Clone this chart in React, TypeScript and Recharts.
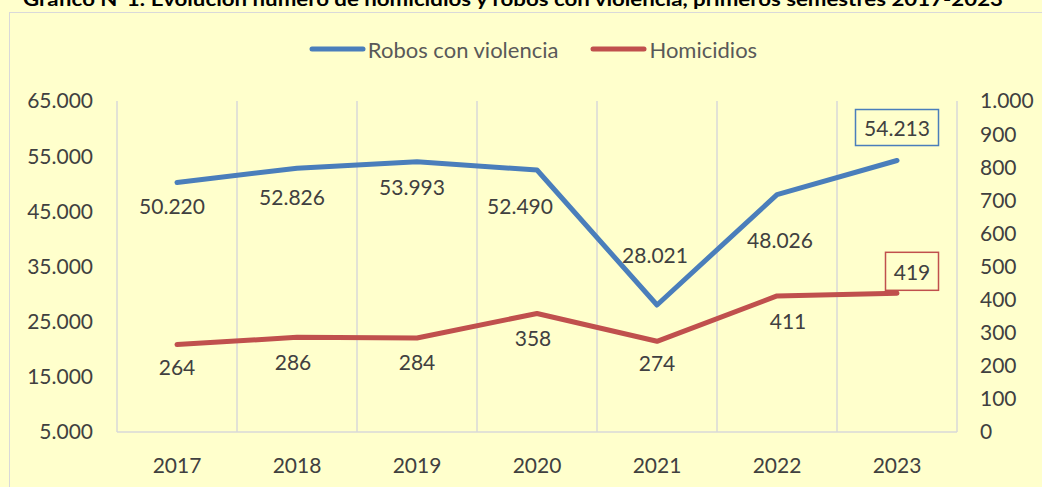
import React from 'react';
import { LineChart, Line, XAxis, YAxis, CartesianGrid, Legend, LabelList } from 'recharts';

const YEARS = ['2017', '2018', '2019', '2020', '2021', '2022', '2023'];
const ROBOS = [50220, 52826, 53993, 52490, 28021, 48026, 54213];
const HOMICIDIOS = [264, 286, 284, 358, 274, 411, 419];
const ROBOS_TICKS = [5000, 15000, 25000, 35000, 45000, 55000, 65000];
const HOMICIDIOS_TICKS = [0, 100, 200, 300, 400, 500, 600, 700, 800, 900, 1000];
const SERIES_ORDER = ['Robos con violencia', 'Homicidios'];

// where each data label sits relative to its point (as in the original, hand placed)
const ROBOS_LABEL_OFFSET = [[-5, 23], [-5, 28], [-5, 25], [-17, 35], [-2, -51], [3, 45], [0, -33]];
const HOMICIDIOS_LABEL_OFFSET = [[0, 22], [-4, 24], [0, 24], [-4, 24], [0, 21], [11, 25], [15, -22]];

const data = YEARS.map((year, i) => ({ year, robos: ROBOS[i], homicidios: HOMICIDIOS[i] }));

const FONT = 'Lato, "Liberation Sans", sans-serif';
const BLUE = '#4A7EBB';
const RED = '#C0504D';
const GRID = '#D9D9D9';
const TEXT = '#404040';

const fmt = (v: number) => String(v).replace(/\B(?=(\d{3})+(?!\d))/g, '.');

const makeLabel = (offsets: number[][], boxColor: string, boxSize: [number, number]) => (props: any) => {
  const { x, y, value, index } = props;
  const [dx, dy] = offsets[index];
  const cx = x + dx;
  const cy = y + dy;
  const last = index === offsets.length - 1;
  return (
    <g>
      {last && (
        <rect
          x={cx - boxSize[0] / 2}
          y={cy - boxSize[1] / 2}
          width={boxSize[0]}
          height={boxSize[1]}
          fill="none"
          stroke={boxColor}
          strokeWidth={1.5}
        />
      )}
      <text x={cx} y={cy} textAnchor="middle" dominantBaseline="central" fontFamily={FONT} fontSize={21} fill={TEXT}>
        {fmt(value)}
      </text>
    </g>
  );
};

const renderLegend = (props: any) => {
  const payload = [...(props.payload || [])].sort(
    (a: any, b: any) => SERIES_ORDER.indexOf(a.value) - SERIES_ORDER.indexOf(b.value)
  );
  return (
    <div
      style={{
        display: 'flex',
        justifyContent: 'center',
        alignItems: 'center',
        height: 30,
        paddingLeft: 56,
        fontFamily: FONT,
        fontSize: 22,
        color: '#595959',
      }}
    >
      {payload.map((entry: any) => (
        <div key={entry.value} style={{ display: 'flex', alignItems: 'center', marginRight: 32 }}>
          <svg width={57} height={10}>
            <line x1={3} y1={5} x2={54} y2={5} stroke={entry.color} strokeWidth={5} strokeLinecap="round" />
          </svg>
          <span style={{ marginLeft: 2 }}>{entry.value}</span>
        </div>
      ))}
    </div>
  );
};

export default function App() {
  return (
    <div
      style={{
        position: 'absolute',
        left: 0,
        top: 0,
        width: 1042,
        height: 487,
        overflow: 'hidden',
        background: '#FFFFCC',
      }}
    >
      <svg width={1042} height={14} style={{ position: 'absolute', left: 0, top: 0 }}>
        <text
          x={513}
          y={6}
          textAnchor="middle"
          fontFamily={FONT}
          fontWeight="bold"
          fontSize={19}
          textLength={980}
          lengthAdjust="spacingAndGlyphs"
          fill="#000"
        >
          Gráfico N°1: Evolución número de homicidios y robos con violencia, primeros semestres 2017-2023
        </text>
      </svg>
      <div
        style={{
          position: 'absolute',
          left: 9,
          top: 12,
          width: 1200,
          height: 700,
          border: `1px solid ${GRID}`,
        }}
      />
      <div style={{ position: 'absolute', left: 0, top: 0 }}>
        <LineChart width={1042} height={487} data={data} margin={{ top: 71, right: 0, bottom: 0, left: 0 }}>
          <CartesianGrid
            horizontal={false}
            stroke={GRID}
            strokeWidth={1.5}
            verticalCoordinatesGenerator={({ offset }: any) =>
              Array.from({ length: YEARS.length + 1 }, (_, i) => offset.left + (i * offset.width) / YEARS.length)
            }
          />
          <XAxis
            dataKey="year"
            height={55}
            padding={{ left: 60, right: 60 }}
            axisLine={{ stroke: GRID, strokeWidth: 1.5 }}
            tickLine={false}
            tickSize={0}
            tickMargin={26}
            tick={{ fontFamily: FONT, fontSize: 21, fill: TEXT }}
            interval={0}
          />
          <YAxis
            yAxisId="robos"
            width={117}
            domain={[5000, 65000]}
            ticks={ROBOS_TICKS}
            tickFormatter={fmt}
            axisLine={false}
            tickLine={false}
            tickSize={0}
            tickMargin={24}
            tick={{ fontFamily: FONT, fontSize: 21, fill: TEXT }}
            interval={0}
          />
          <YAxis
            yAxisId="homicidios"
            orientation="right"
            width={85}
            domain={[0, 1000]}
            ticks={HOMICIDIOS_TICKS}
            tickFormatter={fmt}
            axisLine={false}
            tickLine={false}
            tickSize={0}
            tickMargin={23}
            tick={{ fontFamily: FONT, fontSize: 21, fill: TEXT, textAnchor: 'start' }}
            interval={0}
          />
          <Legend
            verticalAlign="top"
            align="center"
            content={renderLegend}
            wrapperStyle={{ top: 34, left: 0, width: 1042, height: 30 }}
          />
          <Line
            yAxisId="robos"
            dataKey="robos"
            name="Robos con violencia"
            stroke={BLUE}
            strokeWidth={5}
            strokeLinecap="round"
            strokeLinejoin="round"
            dot={false}
            activeDot={false}
            isAnimationActive={false}
          >
            <LabelList dataKey="robos" content={makeLabel(ROBOS_LABEL_OFFSET, BLUE, [83, 36])} />
          </Line>
          <Line
            yAxisId="homicidios"
            dataKey="homicidios"
            name="Homicidios"
            stroke={RED}
            strokeWidth={5}
            strokeLinecap="round"
            strokeLinejoin="round"
            dot={false}
            activeDot={false}
            isAnimationActive={false}
          >
            <LabelList dataKey="homicidios" content={makeLabel(HOMICIDIOS_LABEL_OFFSET, RED, [53, 38])} />
          </Line>
        </LineChart>
      </div>
    </div>
  );
}
